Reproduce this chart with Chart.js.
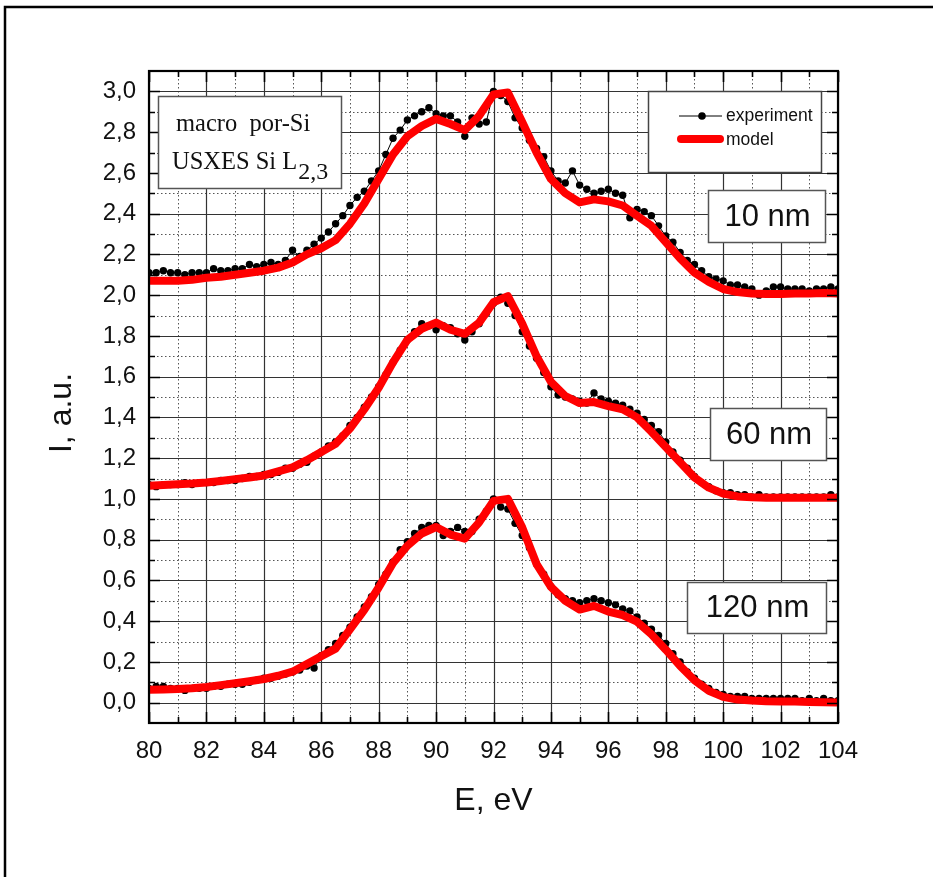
<!DOCTYPE html>
<html>
<head>
<meta charset="utf-8">
<script src="https://cdn.jsdelivr.net/npm/chart.js@4.4.1/dist/chart.umd.min.js"></script>
<style>
  html, body { margin: 0; padding: 0; background: #fff; }
  canvas { display: block; }
</style>
</head>
<body>
<canvas id="c" width="933" height="877"></canvas>
<script>
// ---------- DATA ----------
const energyExp = [80,80.25,80.5,80.75,81,81.25,81.5,81.75,82,82.25,82.5,82.75,83,83.25,83.5,83.75,84,84.25,84.5,84.75,
  85,85.25,85.5,85.75,86,86.25,86.5,86.75,87,87.25,87.5,87.75,88,88.25,88.5,88.75,89,89.25,89.5,89.75,
  90,90.25,90.5,90.75,91,91.25,91.5,91.75,92,92.25,92.5,92.75,93,93.25,93.5,93.75,94,94.25,94.5,94.75,
  95,95.25,95.5,95.75,96,96.25,96.5,96.75,97,97.25,97.5,97.75,98,98.25,98.5,98.75,99,99.25,99.5,99.75,
  100,100.25,100.5,100.75,101,101.25,101.5,101.75,102,102.25,102.5,102.75,103,103.25,103.5,103.75,104];

const exp10nm = [2.11,2.11,2.12,2.11,2.11,2.10,2.11,2.11,2.11,2.13,2.12,2.12,2.13,2.13,2.15,2.14,2.15,2.16,2.15,2.17,
  2.22,2.19,2.22,2.25,2.28,2.31,2.35,2.39,2.44,2.48,2.51,2.56,2.61,2.69,2.77,2.81,2.86,2.88,2.90,2.92,
  2.89,2.88,2.88,2.85,2.78,2.87,2.84,2.85,3.00,2.98,2.95,2.87,2.82,2.76,2.72,2.68,2.61,2.56,2.55,2.61,
  2.54,2.52,2.50,2.51,2.52,2.50,2.49,2.38,2.42,2.41,2.39,2.34,2.29,2.26,2.21,2.17,2.15,2.12,2.09,2.08,
  2.07,2.05,2.05,2.04,2.03,2.00,2.02,2.04,2.04,2.03,2.03,2.03,2.02,2.03,2.03,2.04,2.03];

const exp60nm = [1.07,1.06,1.07,1.07,1.07,1.08,1.07,1.08,1.08,1.08,1.09,1.09,1.09,1.10,1.11,1.11,1.12,1.12,1.13,1.15,
  1.15,1.17,1.18,1.21,1.23,1.26,1.28,1.31,1.36,1.40,1.45,1.50,1.55,1.61,1.67,1.73,1.78,1.82,1.86,1.85,
  1.83,1.85,1.84,1.81,1.78,1.82,1.86,1.91,1.96,1.99,1.96,1.90,1.82,1.75,1.69,1.62,1.55,1.51,1.50,1.49,
  1.48,1.47,1.52,1.49,1.48,1.47,1.46,1.44,1.42,1.39,1.36,1.33,1.28,1.23,1.19,1.15,1.11,1.08,1.06,1.04,
  1.03,1.03,1.02,1.02,1.01,1.02,1.01,1.01,1.01,1.01,1.01,1.01,1.01,1.01,1.01,1.02,1.01];

const exp120nm = [0.07,0.08,0.08,0.07,0.07,0.06,0.07,0.07,0.07,0.08,0.08,0.09,0.09,0.09,0.10,0.11,0.12,0.12,0.13,0.14,
  0.15,0.16,0.18,0.17,0.23,0.26,0.29,0.33,0.37,0.42,0.47,0.52,0.58,0.63,0.69,0.75,0.79,0.83,0.86,0.87,
  0.87,0.82,0.84,0.86,0.84,0.84,0.90,0.94,1.00,0.96,0.95,0.88,0.82,0.76,0.68,0.63,0.57,0.53,0.51,0.50,
  0.49,0.50,0.51,0.50,0.49,0.48,0.46,0.45,0.42,0.39,0.36,0.33,0.29,0.24,0.20,0.15,0.12,0.09,0.07,0.05,
  0.04,0.03,0.03,0.03,0.02,0.02,0.02,0.02,0.02,0.02,0.02,0.01,0.02,0.01,0.02,0.01,0.01];

const energyModel = [80,80.5,81,81.5,82,82.5,83,83.5,84,84.5,85,85.5,86,86.5,87,87.5,88,88.5,89,89.5,
  90,90.5,91,91.5,92,92.5,93,93.5,94,94.5,95,95.5,96,96.5,97,97.5,98,98.5,99,99.5,
  100,100.5,101,101.5,102,102.5,103,103.5,104];

const model10nm = [2.07,2.07,2.07,2.075,2.085,2.09,2.10,2.11,2.12,2.135,2.16,2.20,2.23,2.27,2.35,2.45,2.57,2.69,2.78,2.83,
  2.865,2.84,2.81,2.88,2.985,2.995,2.85,2.70,2.57,2.50,2.455,2.47,2.46,2.44,2.39,2.34,2.26,2.18,2.11,2.065,
  2.03,2.015,2.008,2.005,2.005,2.008,2.008,2.01,2.008];

const model60nm = [1.065,1.068,1.072,1.075,1.08,1.088,1.097,1.105,1.115,1.135,1.155,1.19,1.23,1.27,1.345,1.44,1.545,1.67,1.78,1.835,
  1.865,1.83,1.81,1.865,1.965,1.995,1.86,1.70,1.575,1.505,1.47,1.475,1.455,1.44,1.40,1.33,1.255,1.18,1.105,1.055,
  1.026,1.012,1.008,1.006,1.005,1.005,1.005,1.005,1.005];

const model120nm = [0.063,0.065,0.067,0.071,0.077,0.086,0.095,0.105,0.116,0.132,0.152,0.19,0.228,0.265,0.36,0.455,0.565,0.685,0.77,0.83,
  0.862,0.825,0.805,0.885,0.99,1.0,0.86,0.68,0.568,0.50,0.457,0.475,0.447,0.43,0.397,0.335,0.26,0.18,0.11,0.058,
  0.028,0.015,0.01,0.007,0.006,0.005,0.003,0.002,0.001];

const xTickValues = [80,82,84,86,88,90,92,94,96,98,100,102,104];
const xTickLabels = ['80','82','84','86','88','90','92','94','96','98','100','102','104'];
const xMinorValues = [81,83,85,87,89,91,93,95,97,99,101,103];
const yTickValues = [0,0.2,0.4,0.6,0.8,1.0,1.2,1.4,1.6,1.8,2.0,2.2,2.4,2.6,2.8,3.0];
const yTickLabels = ['0,0','0,2','0,4','0,6','0,8','1,0','1,2','1,4','1,6','1,8','2,0','2,2','2,4','2,6','2,8','3,0'];
const yMinorValues = [0.1,0.3,0.5,0.7,0.9,1.1,1.3,1.5,1.7,1.9,2.1,2.3,2.5,2.7,2.9];

const xTitle = 'E, eV';
const yTitle = 'I, a.u.';
const legendLabels = ['experiment', 'model'];
const sampleLabels = ['10 nm', '60 nm', '120 nm'];
const infoLine1 = 'macro  por-Si';
const infoLine2 = 'USXES Si L';
const infoSub = '2,3';

// ---------- STYLE ----------
const SANS = '"Liberation Sans", Arial, sans-serif';
const SERIF = '"Liberation Serif", "Times New Roman", serif';
const RED = '#ff0000';

function pts(xs, ys) { return xs.map((x, i) => ({ x: x, y: ys[i] })); }

function expSet(ys) {
  return { data: pts(energyExp, ys), borderColor: '#000', borderWidth: 1, pointRadius: 3.7,
    pointBackgroundColor: '#000', pointBorderWidth: 0, pointHoverRadius: 3.7, order: 2 };
}
function modelSet(ys) {
  return { data: pts(energyModel, ys), borderColor: RED, borderWidth: 8, pointRadius: 0,
    borderJoinStyle: 'round', borderCapStyle: 'round', order: 1 };
}

const deco = {
  id: 'deco',
  beforeDraw(chart) {
    const ctx = chart.ctx;
    ctx.save();
    ctx.fillStyle = '#fff';
    ctx.fillRect(0, 0, chart.width, chart.height);
    ctx.strokeStyle = '#000';
    ctx.lineWidth = 2.5;
    ctx.beginPath();
    ctx.moveTo(5, chart.height + 5);
    ctx.lineTo(5, 7);
    ctx.lineTo(chart.width + 5, 7);
    ctx.stroke();
    ctx.restore();
  },
  beforeDatasetsDraw(chart) {
    const { ctx, chartArea: a, scales: { x, y } } = chart;
    ctx.save();
    ctx.strokeStyle = '#555';
    ctx.lineWidth = 1;
    ctx.setLineDash([1.5, 2.5]);
    ctx.beginPath();
    xMinorValues.forEach(v => { const px = Math.round(x.getPixelForValue(v)) + 0.5; ctx.moveTo(px, a.top); ctx.lineTo(px, a.bottom); });
    yMinorValues.forEach(v => { const py = Math.round(y.getPixelForValue(v)) + 0.5; ctx.moveTo(a.left, py); ctx.lineTo(a.right, py); });
    ctx.stroke();
    ctx.setLineDash([]);
    ctx.strokeStyle = '#333';
    ctx.lineWidth = 1.2;
    ctx.beginPath();
    xTickValues.forEach(v => { const px = Math.round(x.getPixelForValue(v)) + 0.5; ctx.moveTo(px, a.top); ctx.lineTo(px, a.bottom); });
    yTickValues.forEach(v => { const py = Math.round(y.getPixelForValue(v)) + 0.5; ctx.moveTo(a.left, py); ctx.lineTo(a.right, py); });
    ctx.stroke();
    ctx.restore();
  },
  afterDatasetsDraw(chart) {
    const { ctx, chartArea: a, scales: { x, y } } = chart;
    ctx.save();
    ctx.strokeStyle = '#000';
    ctx.lineWidth = 1.6;
    ctx.beginPath();
    const MJ = 11, MN = 6;
    xTickValues.forEach(v => { const px = Math.round(x.getPixelForValue(v)) + 0.5;
      ctx.moveTo(px, a.bottom); ctx.lineTo(px, a.bottom - MJ); ctx.moveTo(px, a.top); ctx.lineTo(px, a.top + MJ); });
    xMinorValues.forEach(v => { const px = Math.round(x.getPixelForValue(v)) + 0.5;
      ctx.moveTo(px, a.bottom); ctx.lineTo(px, a.bottom - MN); ctx.moveTo(px, a.top); ctx.lineTo(px, a.top + MN); });
    yTickValues.forEach(v => { const py = Math.round(y.getPixelForValue(v)) + 0.5;
      ctx.moveTo(a.left, py); ctx.lineTo(a.left + MJ, py); ctx.moveTo(a.right, py); ctx.lineTo(a.right - MJ, py); });
    yMinorValues.forEach(v => { const py = Math.round(y.getPixelForValue(v)) + 0.5;
      ctx.moveTo(a.left, py); ctx.lineTo(a.left + MN, py); ctx.moveTo(a.right, py); ctx.lineTo(a.right - MN, py); });
    ctx.stroke();
    ctx.lineWidth = 2.2;
    ctx.strokeRect(a.left, a.top, a.right - a.left, a.bottom - a.top);

    // y title
    ctx.fillStyle = '#111';
    ctx.font = '32px ' + SANS;
    ctx.textAlign = 'center';
    ctx.textBaseline = 'middle';
    ctx.save();
    ctx.translate(62, 413);
    ctx.rotate(-Math.PI / 2);
    ctx.fillText(yTitle, 0, 0);
    ctx.restore();

    // info box (top-left)
    ctx.fillStyle = '#fff';
    ctx.fillRect(158, 96, 184, 93);
    ctx.strokeStyle = '#555';
    ctx.lineWidth = 1.5;
    ctx.strokeRect(158.5, 96.5, 183, 92);
    ctx.fillStyle = '#111';
    ctx.textAlign = 'left';
    ctx.textBaseline = 'alphabetic';
    ctx.font = '24.5px ' + SERIF;
    ctx.fillText(infoLine1, 176, 131);
    ctx.fillText(infoLine2, 172, 169);
    const w2 = ctx.measureText(infoLine2).width;
    ctx.font = '24px ' + SERIF;
    ctx.fillText(infoSub, 172 + w2 + 1, 179);

    // legend box
    ctx.fillStyle = '#fff';
    ctx.fillRect(648, 91, 174, 82);
    ctx.strokeStyle = '#444';
    ctx.lineWidth = 1.5;
    ctx.strokeRect(648.5, 91.5, 173, 81);
    ctx.strokeStyle = '#000';
    ctx.lineWidth = 1;
    ctx.beginPath(); ctx.moveTo(679, 116); ctx.lineTo(722, 116); ctx.stroke();
    ctx.fillStyle = '#000';
    ctx.beginPath(); ctx.arc(702, 116, 3.8, 0, Math.PI * 2); ctx.fill();
    ctx.strokeStyle = RED;
    ctx.lineWidth = 8;
    ctx.lineCap = 'round';
    ctx.beginPath(); ctx.moveTo(681, 139); ctx.lineTo(720, 139); ctx.stroke();
    ctx.lineCap = 'butt';
    ctx.fillStyle = '#111';
    ctx.font = '17.5px ' + SANS;
    ctx.textBaseline = 'middle';
    ctx.fillText(legendLabels[0], 726, 116);
    ctx.fillText(legendLabels[1], 726, 140);

    // sample label boxes
    const boxes = [[708, 190, 117, 52], [710, 408, 116, 52], [687, 582, 139, 51]];
    boxes.forEach((b, i) => {
      ctx.fillStyle = '#fff';
      ctx.fillRect(b[0], b[1], b[2], b[3]);
      ctx.strokeStyle = '#555';
      ctx.lineWidth = 1.5;
      ctx.strokeRect(b[0] + 0.5, b[1] + 0.5, b[2], b[3]);
      ctx.fillStyle = '#111';
      ctx.font = '31px ' + SANS;
      ctx.textAlign = 'center';
      ctx.textBaseline = 'middle';
      ctx.fillText(sampleLabels[i], b[0] + b[2] / 2 + 1, b[1] + b[3] / 2 + 1);
    });
    ctx.restore();
  }
};

new Chart(document.getElementById('c'), {
  type: 'line',
  data: {
    datasets: [
      modelSet(model10nm), modelSet(model60nm), modelSet(model120nm),
      expSet(exp10nm), expSet(exp60nm), expSet(exp120nm)
    ]
  },
  options: {
    responsive: false,
    animation: false,
    devicePixelRatio: 1,
    layout: { padding: { top: 71, right: 95, left: 0, bottom: 0 } },
    plugins: { legend: { display: false }, tooltip: { enabled: false } },
    events: [],
    scales: {
      x: {
        type: 'linear', min: 80, max: 104,
        afterBuildTicks: s => { s.ticks = xTickValues.map(v => ({ value: v })); },
        afterFit: s => { s.height = 154; },
        grid: { display: false, drawTicks: false },
        border: { display: false },
        ticks: { padding: 14, color: '#111', font: { family: SANS, size: 24 }, maxRotation: 0,
          autoSkip: false, callback: (v, i) => xTickLabels[i] },
        title: { display: true, text: xTitle, color: '#111', font: { family: SANS, size: 32 },
          padding: { top: 0, bottom: 57 } }
      },
      y: {
        type: 'linear', min: -0.1, max: 3.1,
        afterBuildTicks: s => { s.ticks = yTickValues.map(v => ({ value: v })); },
        afterFit: s => { s.width = 149; },
        grid: { display: false, drawTicks: false },
        border: { display: false },
        ticks: { padding: 13, color: '#111', font: { family: SANS, size: 24 }, autoSkip: false,
          callback: (v, i) => yTickLabels[i] }
      }
    }
  },
  plugins: [deco]
});
</script>
</body>
</html>
